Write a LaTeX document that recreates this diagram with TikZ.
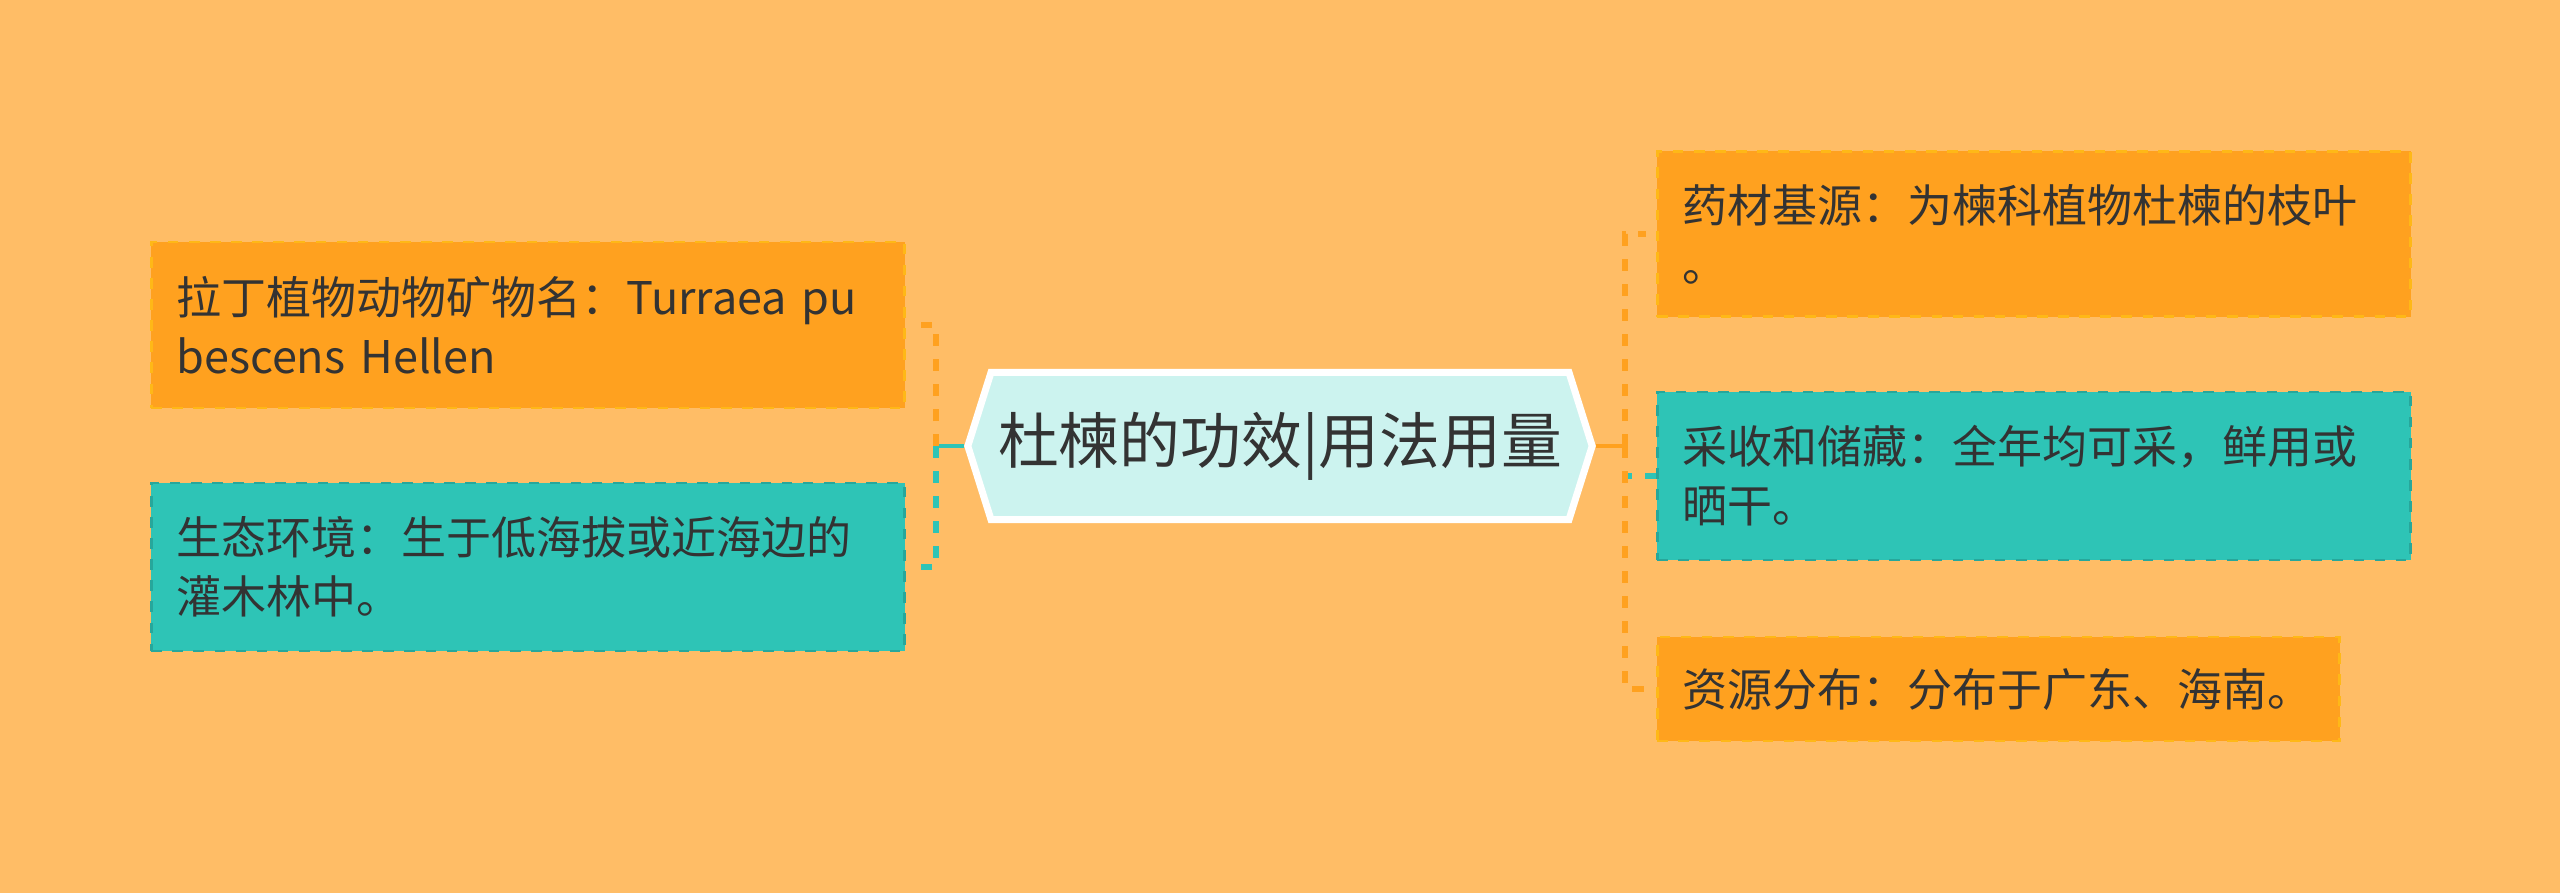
\documentclass[tikz,border=0pt]{standalone}
\usepackage{fontspec}
\setmainfont{Noto Sans CJK SC}
\usepackage{tikz}
\usetikzlibrary{shapes.symbols,calc}

\definecolor{bgorange}{HTML}{FFBD66}
\definecolor{boxorange}{HTML}{FFA11F}
\definecolor{boxteal}{HTML}{2EC4B6}
\definecolor{hubfill}{HTML}{CCF3EF}
\definecolor{textgray}{HTML}{333333}

\begin{document}
\begin{tikzpicture}[
    x=0.01cm, y=-0.01cm,
    hub/.style={signal, signal to=east and west, signal pointer angle=145, draw=white, line width=0.07cm, fill=hubfill,
        minimum width=6.24cm, minimum height=1.47cm, inner sep=0pt, text=textgray, font=\fontsize{17.3}{20}\selectfont},
    leaf/.style={anchor=west, text width=7.03cm, inner xsep=0.25cm, inner ysep=0pt, align=left, text=textgray,
        font=\fontsize{12.8}{16.8}\selectfont, dashed, line width=0.025cm},
    oleaf/.style={leaf, fill=boxorange, draw=boxorange!75!yellow},
    tleaf/.style={leaf, fill=boxteal, draw=boxteal!85!black},
    link/.style={line width=0.045cm},
    branch/.style={line width=0.06cm, dash pattern=on 0.12cm off 0.13cm}
]
% Background and bounds
\fill[bgorange] (0,0) rectangle (2560,893);

% Central topic
\node[hub] (main) at (1280,446) {杜楝的功效|用法用量};

% Left branches
\node[oleaf, minimum height=1.66cm] (latin) at (150,325) {拉丁植物动物矿物名：Turraea pu\\bescens Hellen};
\node[tleaf, minimum height=1.68cm] (habitat) at (150,567) {生态环境：生于低海拔或近海边的\\灌木林中。};

% Right branches
\node[oleaf, minimum height=1.65cm] (source) at (1656,234) {药材基源：为楝科植物杜楝的枝叶\\。};
\node[tleaf, minimum height=1.68cm] (harvest) at (1656,476) {采收和储藏：全年均可采，鲜用或\\晒干。};
\node[oleaf, minimum height=1.04cm, text width=6.32cm] (spread) at (1656,689) {资源分布：分布于广东、海南。};

% Junctions
\coordinate (lj) at (936,446);
\coordinate (rj) at (1625,446);

% Left connectors
\draw[link, boxteal] (main.west) -- (lj);
\draw[branch, boxorange] (lj) |- ([xshift=0.15cm]latin.east);
\draw[branch, boxteal] (lj) |- ([xshift=0.15cm]habitat.east);

% Right connectors
\draw[link, boxorange] (main.east) -- (rj);
\draw[branch, boxteal] (rj) |- (harvest.west);
\draw[branch, boxorange] (rj) |- ([xshift=-0.1cm]source.west);
\draw[branch, boxorange] (rj) |- ([xshift=-0.1cm]spread.west);
\end{tikzpicture}
\end{document}
